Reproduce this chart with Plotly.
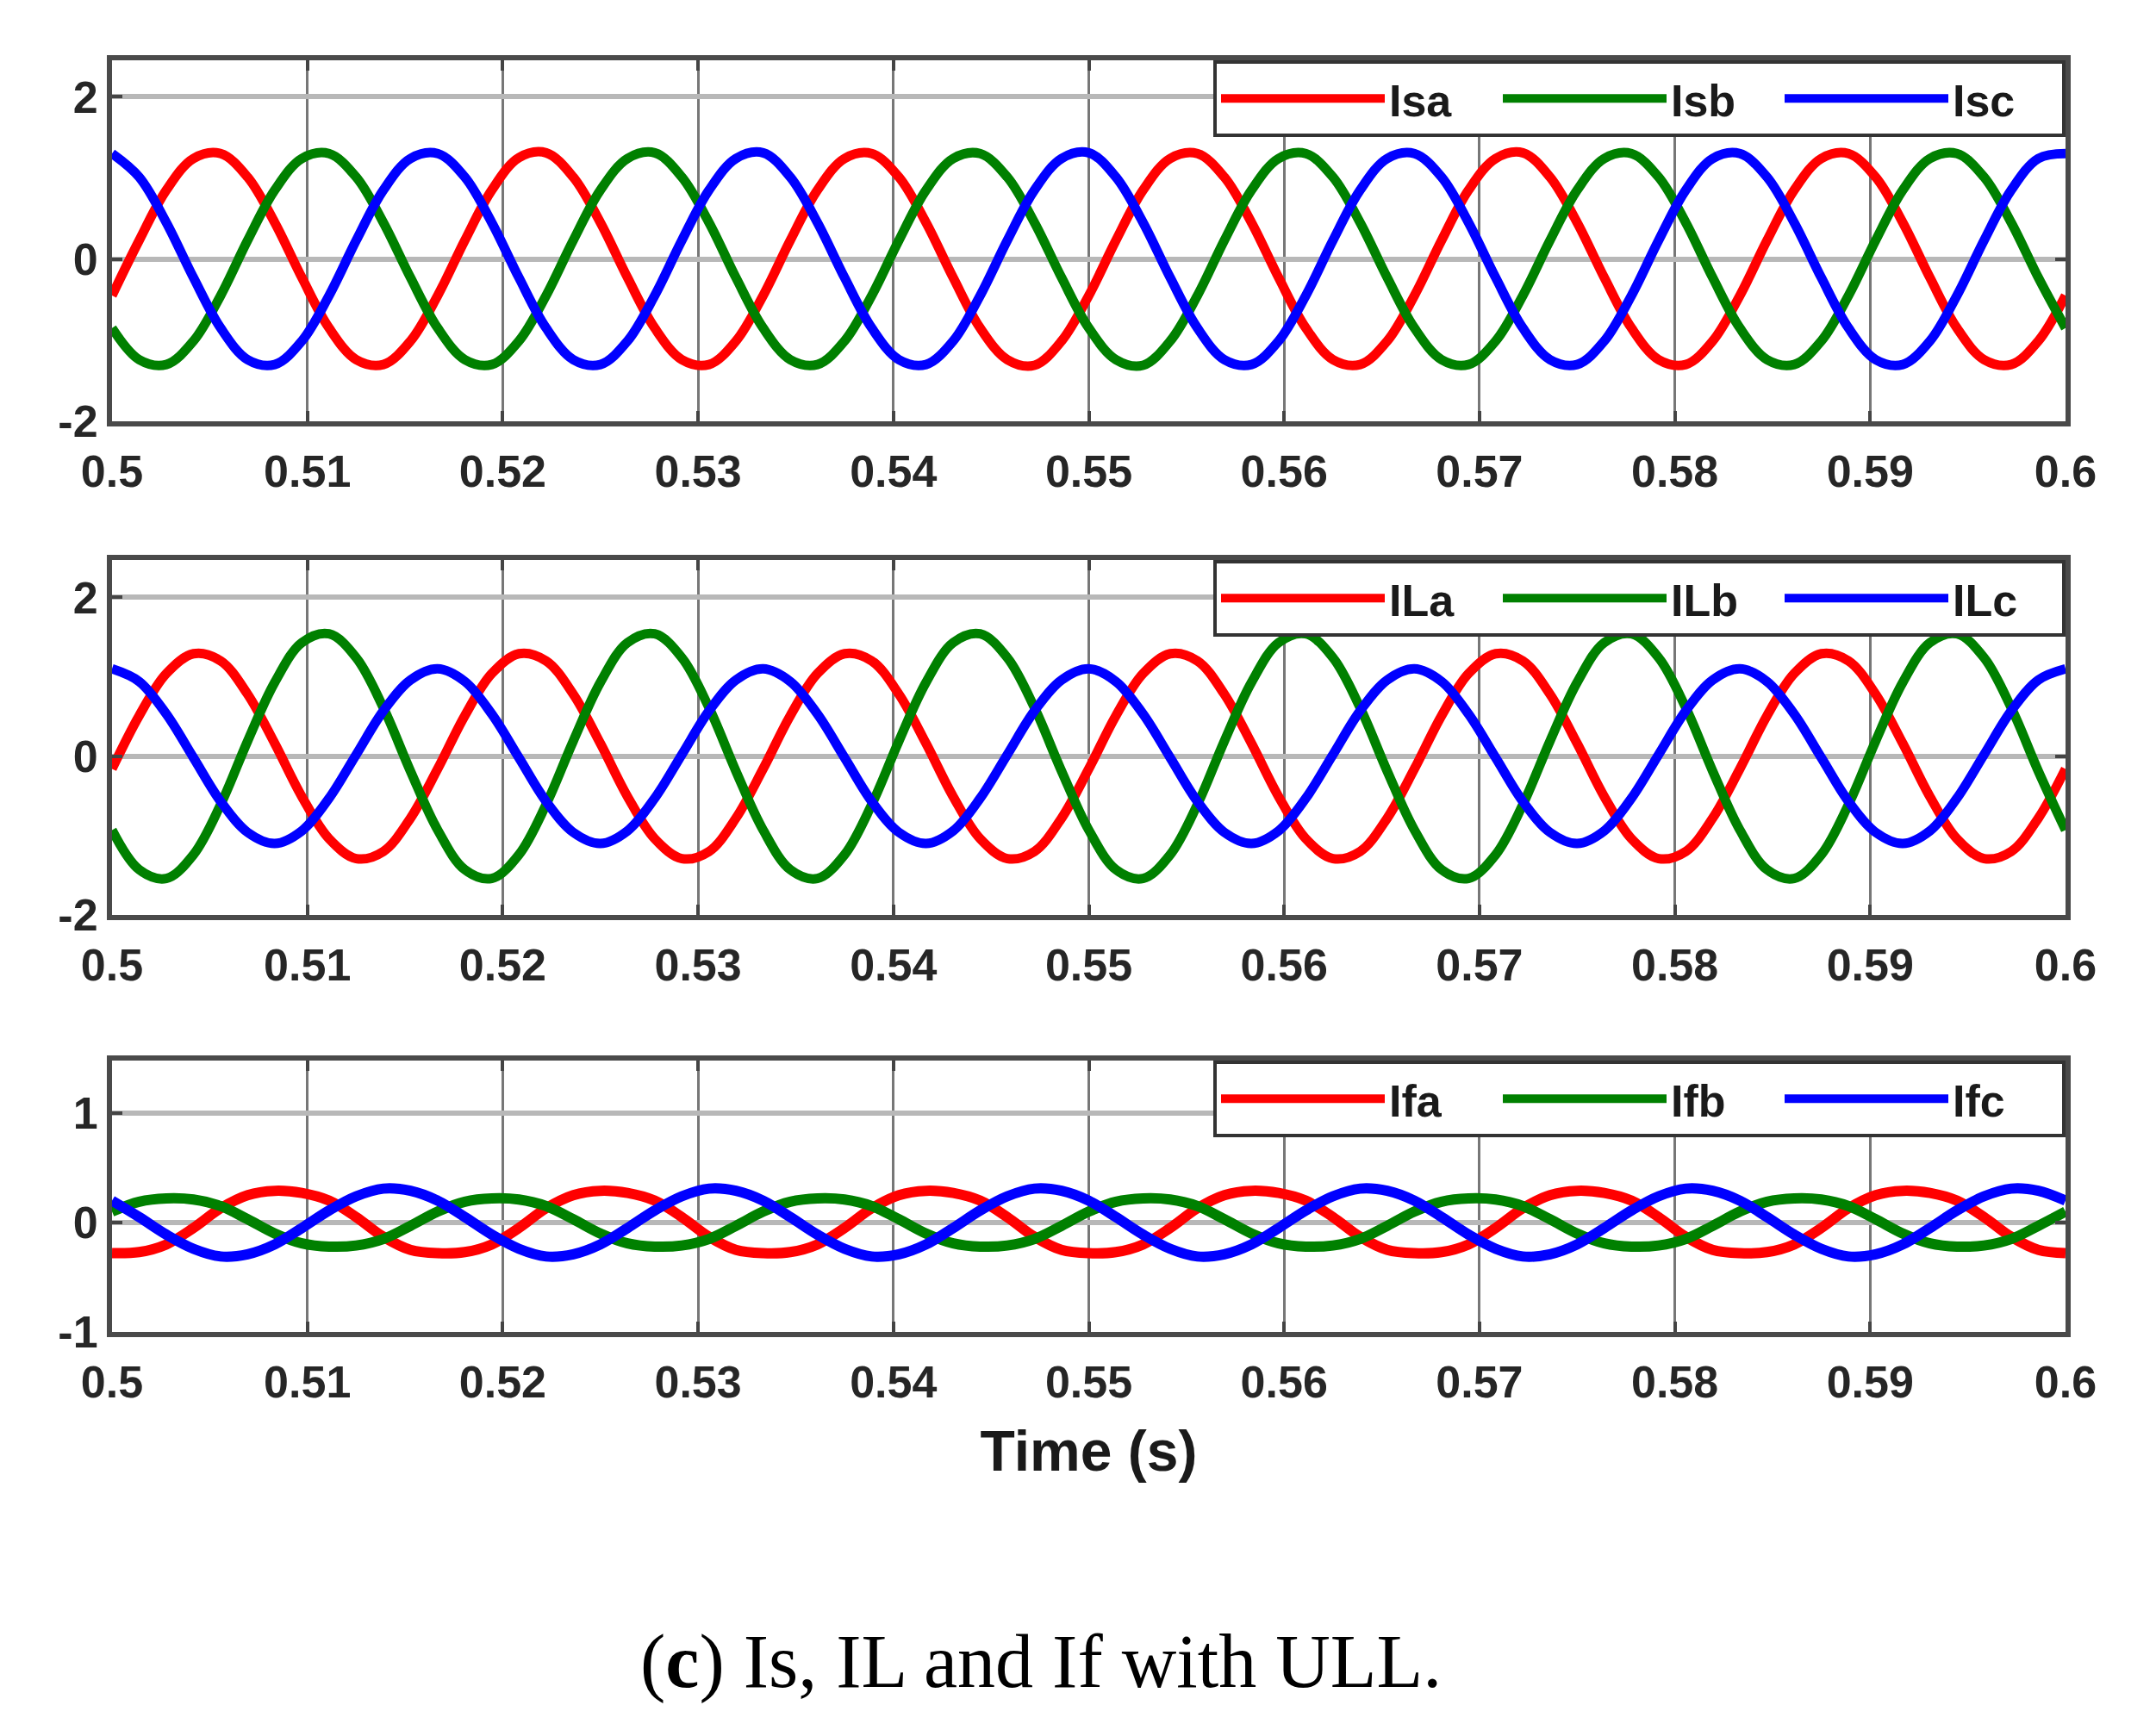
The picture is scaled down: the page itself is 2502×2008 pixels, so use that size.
import plotly.graph_objects as go

# ---------------- data ----------------
time_s = [0.50000, 0.50139, 0.50278, 0.50417, 0.50556, 0.50694, 0.50833, 0.50972, 0.51111, 0.51250,
          0.51389, 0.51528, 0.51667, 0.51806, 0.51944, 0.52083, 0.52222, 0.52361, 0.52500, 0.52639,
          0.52778, 0.52917, 0.53056, 0.53194, 0.53333, 0.53472, 0.53611, 0.53750, 0.53889, 0.54028,
          0.54167, 0.54306, 0.54444, 0.54583, 0.54722, 0.54861, 0.55000, 0.55139, 0.55278, 0.55417,
          0.55556, 0.55694, 0.55833, 0.55972, 0.56111, 0.56250, 0.56389, 0.56528, 0.56667, 0.56806,
          0.56944, 0.57083, 0.57222, 0.57361, 0.57500, 0.57639, 0.57778, 0.57917, 0.58056, 0.58194,
          0.58333, 0.58472, 0.58611, 0.58750, 0.58889, 0.59028, 0.59167, 0.59306, 0.59444, 0.59583,
          0.59722, 0.59861, 0.60000]

isa = [-0.45, 0.23, 0.85, 1.24, 1.30, 1.01, 0.45, -0.23, -0.85, -1.24, -1.30, -1.01,
       -0.45, 0.23, 0.85, 1.25, 1.31, 1.01, 0.45, -0.23, -0.85, -1.24, -1.30, -1.01,
       -0.45, 0.23, 0.85, 1.24, 1.30, 1.01, 0.45, -0.23, -0.85, -1.24, -1.31, -1.01,
       -0.45, 0.23, 0.85, 1.24, 1.30, 1.01, 0.45, -0.23, -0.85, -1.24, -1.30, -1.01,
       -0.45, 0.23, 0.85, 1.24, 1.31, 1.01, 0.45, -0.23, -0.85, -1.24, -1.30, -1.01,
       -0.45, 0.23, 0.85, 1.24, 1.30, 1.01, 0.45, -0.23, -0.85, -1.24, -1.30, -1.01,
       -0.45]
isb = [-0.85, -1.24, -1.30, -1.01, -0.45, 0.23, 0.85, 1.24, 1.30, 1.01, 0.45, -0.23,
       -0.85, -1.24, -1.30, -1.01, -0.45, 0.23, 0.85, 1.24, 1.31, 1.01, 0.45, -0.23,
       -0.85, -1.24, -1.30, -1.01, -0.45, 0.23, 0.85, 1.24, 1.30, 1.01, 0.45, -0.23,
       -0.85, -1.24, -1.31, -1.01, -0.45, 0.23, 0.85, 1.24, 1.30, 1.01, 0.45, -0.23,
       -0.85, -1.24, -1.30, -1.01, -0.45, 0.23, 0.85, 1.24, 1.30, 1.01, 0.45, -0.23,
       -0.85, -1.24, -1.30, -1.01, -0.45, 0.23, 0.85, 1.24, 1.30, 1.01, 0.45, -0.23,
       -0.85]
isc = [1.30, 1.01, 0.45, -0.23, -0.85, -1.24, -1.30, -1.01, -0.45, 0.23, 0.85, 1.24,
       1.30, 1.01, 0.45, -0.23, -0.85, -1.24, -1.30, -1.01, -0.45, 0.23, 0.85, 1.24,
       1.31, 1.01, 0.45, -0.23, -0.85, -1.24, -1.30, -1.01, -0.45, 0.23, 0.85, 1.24,
       1.31, 1.01, 0.45, -0.23, -0.85, -1.24, -1.30, -1.01, -0.45, 0.23, 0.85, 1.24,
       1.30, 1.01, 0.45, -0.23, -0.85, -1.24, -1.30, -1.01, -0.45, 0.23, 0.85, 1.24,
       1.30, 1.01, 0.45, -0.23, -0.85, -1.24, -1.30, -1.01, -0.45, 0.23, 0.85, 1.24,
       1.30]

ila = [-0.16, 0.51, 1.04, 1.29, 1.20, 0.78, 0.16, -0.51, -1.04, -1.29, -1.20, -0.78,
       -0.16, 0.51, 1.04, 1.29, 1.20, 0.78, 0.16, -0.51, -1.04, -1.29, -1.20, -0.78,
       -0.16, 0.51, 1.04, 1.29, 1.20, 0.78, 0.16, -0.51, -1.04, -1.29, -1.20, -0.78,
       -0.16, 0.51, 1.04, 1.29, 1.20, 0.78, 0.16, -0.51, -1.04, -1.29, -1.20, -0.78,
       -0.16, 0.51, 1.04, 1.29, 1.20, 0.78, 0.16, -0.51, -1.04, -1.29, -1.20, -0.78,
       -0.16, 0.51, 1.04, 1.29, 1.20, 0.78, 0.16, -0.51, -1.04, -1.29, -1.20, -0.78,
       -0.16]
ilb = [-0.93, -1.43, -1.54, -1.24, -0.61, 0.19, 0.93, 1.43, 1.54, 1.24, 0.61, -0.19,
       -0.93, -1.43, -1.54, -1.24, -0.61, 0.19, 0.93, 1.43, 1.54, 1.24, 0.61, -0.19,
       -0.93, -1.43, -1.54, -1.24, -0.61, 0.19, 0.93, 1.43, 1.54, 1.24, 0.61, -0.19,
       -0.93, -1.43, -1.54, -1.24, -0.61, 0.19, 0.93, 1.43, 1.54, 1.24, 0.61, -0.19,
       -0.93, -1.43, -1.54, -1.24, -0.61, 0.19, 0.93, 1.43, 1.54, 1.24, 0.61, -0.19,
       -0.93, -1.43, -1.54, -1.24, -0.61, 0.19, 0.93, 1.43, 1.54, 1.24, 0.61, -0.19,
       -0.93]
ilc = [1.10, 0.94, 0.53, -0.02, -0.57, -0.96, -1.10, -0.94, -0.53, 0.02, 0.57, 0.96,
       1.10, 0.94, 0.53, -0.02, -0.57, -0.96, -1.10, -0.94, -0.53, 0.02, 0.57, 0.96,
       1.10, 0.94, 0.53, -0.02, -0.57, -0.96, -1.10, -0.94, -0.53, 0.02, 0.57, 0.96,
       1.10, 0.94, 0.53, -0.02, -0.57, -0.96, -1.10, -0.94, -0.53, 0.02, 0.57, 0.96,
       1.10, 0.94, 0.53, -0.02, -0.57, -0.96, -1.10, -0.94, -0.53, 0.02, 0.57, 0.96,
       1.10, 0.94, 0.53, -0.02, -0.57, -0.96, -1.10, -0.94, -0.53, 0.02, 0.57, 0.96,
       1.10]

ifa = [-0.28, -0.27, -0.20, -0.05, 0.13, 0.25, 0.29, 0.27, 0.20, 0.05, -0.13, -0.25,
       -0.28, -0.27, -0.20, -0.05, 0.13, 0.25, 0.29, 0.27, 0.20, 0.05, -0.13, -0.25,
       -0.28, -0.27, -0.20, -0.05, 0.13, 0.25, 0.29, 0.27, 0.20, 0.05, -0.13, -0.25,
       -0.28, -0.27, -0.20, -0.05, 0.13, 0.25, 0.29, 0.27, 0.20, 0.05, -0.13, -0.25,
       -0.28, -0.27, -0.20, -0.05, 0.13, 0.25, 0.29, 0.27, 0.20, 0.05, -0.13, -0.25,
       -0.28, -0.27, -0.20, -0.05, 0.13, 0.25, 0.29, 0.27, 0.20, 0.05, -0.13, -0.25,
       -0.28]
ifb = [0.10, 0.19, 0.22, 0.21, 0.15, 0.03, -0.10, -0.19, -0.22, -0.21, -0.15, -0.03,
       0.10, 0.19, 0.22, 0.21, 0.15, 0.03, -0.10, -0.19, -0.22, -0.21, -0.15, -0.03,
       0.10, 0.19, 0.22, 0.21, 0.15, 0.03, -0.10, -0.19, -0.22, -0.21, -0.15, -0.03,
       0.10, 0.19, 0.22, 0.21, 0.15, 0.03, -0.10, -0.19, -0.22, -0.21, -0.15, -0.03,
       0.10, 0.19, 0.22, 0.21, 0.15, 0.03, -0.10, -0.19, -0.22, -0.21, -0.15, -0.03,
       0.10, 0.19, 0.22, 0.21, 0.15, 0.03, -0.10, -0.19, -0.22, -0.21, -0.15, -0.03,
       0.10]
ifc = [0.20, 0.05, -0.11, -0.24, -0.31, -0.29, -0.20, -0.05, 0.11, 0.24, 0.31, 0.29,
       0.20, 0.05, -0.11, -0.24, -0.31, -0.29, -0.20, -0.05, 0.11, 0.24, 0.31, 0.29,
       0.20, 0.05, -0.11, -0.24, -0.31, -0.29, -0.20, -0.05, 0.11, 0.24, 0.31, 0.29,
       0.20, 0.05, -0.11, -0.24, -0.31, -0.29, -0.20, -0.05, 0.11, 0.24, 0.31, 0.29,
       0.20, 0.05, -0.11, -0.24, -0.31, -0.29, -0.20, -0.05, 0.11, 0.24, 0.31, 0.29,
       0.20, 0.05, -0.11, -0.24, -0.31, -0.29, -0.20, -0.05, 0.11, 0.24, 0.31, 0.29,
       0.20]

x_tickvals = [0.5, 0.51, 0.52, 0.53, 0.54, 0.55, 0.56, 0.57, 0.58, 0.59, 0.6]
x_ticktext = ["0.5", "0.51", "0.52", "0.53", "0.54", "0.55", "0.56", "0.57", "0.58", "0.59", "0.6"]
names_s = ["Isa", "Isb", "Isc"]
names_l = ["ILa", "ILb", "ILc"]
names_f = ["Ifa", "Ifb", "Ifc"]
caption = "(<b>c</b>) Is, IL and If with ULL."
xlabel = "Time (s)"

# ---------------- styling ----------------
W, H = 2502, 2008
COLORS = ["#ff0000", "#008000", "#0000ff"]
SANS = "Liberation Sans, Arial, sans-serif"
SERIF = "Liberation Serif, Times New Roman, serif"
XDOM = [130 / W, 2397 / W]
panels = [
    dict(series=[isa, isb, isc], names=names_s, ydom=[1 - 489 / H, 1 - 70 / H],
         yrange=[-2, 2.45], yticks=[-2, 0, 2], lw=11),
    dict(series=[ila, ilb, ilc], names=names_l, ydom=[1 - 1062 / H, 1 - 650 / H],
         yrange=[-2, 2.47], yticks=[-2, 0, 2], lw=11),
    dict(series=[ifa, ifb, ifc], names=names_f, ydom=[1 - 1546 / H, 1 - 1231 / H],
         yrange=[-1, 1.48], yticks=[-1, 0, 1], lw=12),
]

fig = go.Figure()
layout = dict(
    width=W, height=H,
    margin=dict(l=0, r=0, t=0, b=0),
    paper_bgcolor="white", plot_bgcolor="white",
    showlegend=True,
)

for i, p in enumerate(panels):
    n = "" if i == 0 else str(i + 1)
    leg = "legend" + n
    for vals, name, col in zip(p["series"], p["names"], COLORS):
        fig.add_trace(go.Scatter(
            x=time_s, y=vals, name=name, mode="lines",
            line=dict(color=col, width=p["lw"], shape="spline", smoothing=1.0),
            xaxis="x" + n, yaxis="y" + n, legend=leg,
        ))
    common = dict(showline=True, linecolor="#4a4a4a", linewidth=6, mirror="allticks",
                  ticks="inside", ticklen=12, tickwidth=4, tickcolor="#444444",
                  zeroline=False, automargin=False,
                  tickfont=dict(family=SANS, size=52, color="#262626", weight="bold"))
    layout["xaxis" + n] = dict(
        domain=XDOM, anchor="y" + n, range=[0.5, 0.6],
        tickvals=x_tickvals, ticktext=x_ticktext,
        showgrid=True, gridcolor="#777777", gridwidth=3,
        ticklabelstandoff=8, **common)
    layout["yaxis" + n] = dict(
        domain=p["ydom"], anchor="x" + n, range=p["yrange"],
        tickvals=p["yticks"], ticktext=[str(v) for v in p["yticks"]],
        showgrid=True, gridcolor="#b8b8b8", gridwidth=6,
        ticklabelstandoff=0, **common)
    layout[leg] = dict(
        orientation="h", x=XDOM[1], xanchor="right", y=p["ydom"][1], yanchor="top",
        xref="paper", yref="paper",
        bgcolor="white", bordercolor="#333333", borderwidth=4,
        font=dict(family=SANS, size=52, color="#1a1a1a", weight="bold"),
        itemwidth=190, entrywidth=122, tracegroupgap=0,
    )

layout["xaxis3"]["title"] = dict(text=xlabel, standoff=30,
                                 font=dict(family=SANS, size=66, color="#1a1a1a", weight="bold"))

fig.update_layout(**layout)
fig.add_annotation(text=caption, x=1208 / W, y=1 - 1928 / H, xref="paper", yref="paper",
                   showarrow=False, xanchor="center", yanchor="middle",
                   font=dict(family=SERIF, size=88, color="black"))

fig.write_html("out.html", config={"displayModeBar": False},
               post_script="document.body.style.margin='0';")
